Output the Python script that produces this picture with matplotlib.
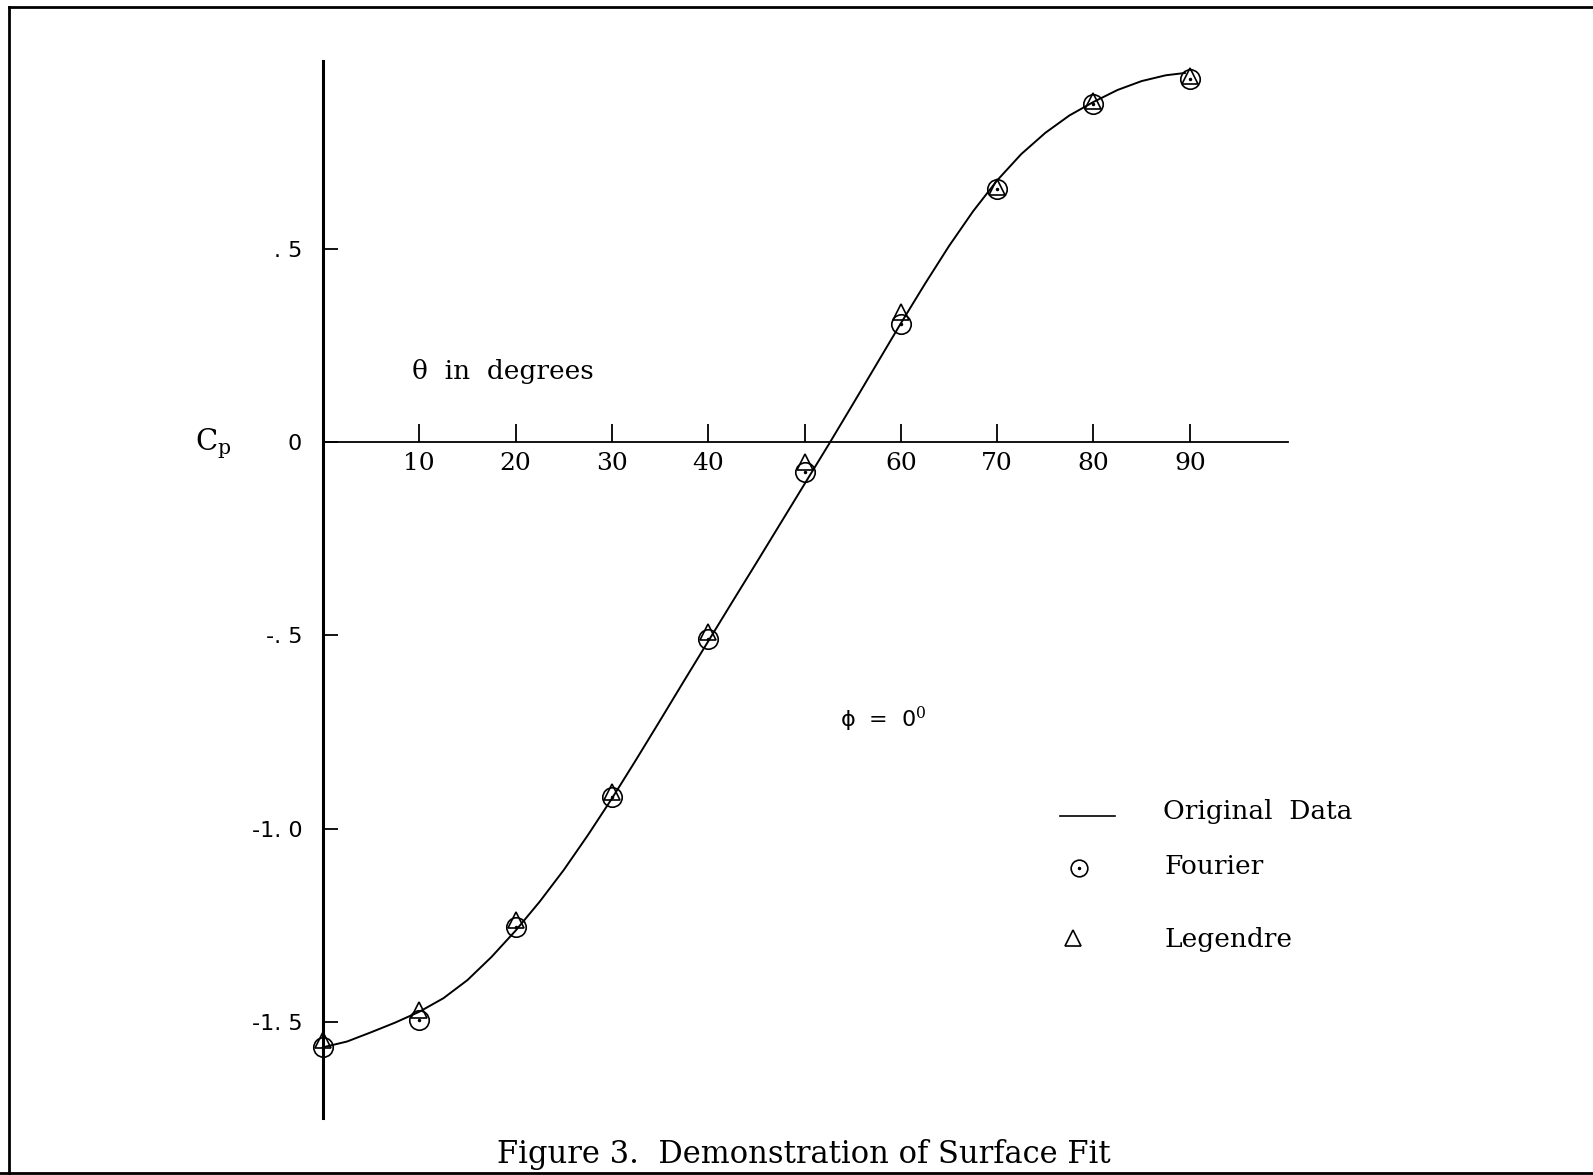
import matplotlib.pyplot as plt
from matplotlib.lines import Line2D

# original data curve (theta in degrees, Cp)
theta_line = [0, 2.5, 5, 7.5, 10, 12.5, 15, 17.5, 20, 22.5, 25, 27.5, 30, 32.5, 35,
              37.5, 40, 42.5, 45, 47.5, 50, 52.5, 55, 57.5, 60, 62.5, 65, 67.5, 70,
              72.5, 75, 77.5, 80, 82.5, 85, 87.5, 89.5]
cp_line = [-1.566, -1.551, -1.527, -1.502, -1.474, -1.439, -1.392, -1.332, -1.264,
           -1.189, -1.107, -1.017, -0.922, -0.822, -0.720, -0.617, -0.515, -0.413,
           -0.312, -0.210, -0.108, -0.006, 0.098, 0.203, 0.308, 0.410, 0.508, 0.598,
           0.678, 0.746, 0.801, 0.846, 0.881, 0.912, 0.935, 0.950, 0.956]

# fitted points
theta_pts = [0, 10, 20, 30, 40, 50, 60, 70, 80, 90]
cp_fourier = [-1.565, -1.495, -1.254, -0.917, -0.510, -0.078, 0.306, 0.655, 0.876, 0.940]
cp_legendre = [-1.547, -1.469, -1.236, -0.904, -0.490, -0.050, 0.337, 0.660, 0.884, 0.947]

x_ticks = [10, 20, 30, 40, 50, 60, 70, 80, 90]
x_labels = ['10', '20', '30', '40', '', '60', '70', '80', '90']
y_ticks = [0.5, 0, -0.5, -1.0, -1.5]
y_labels = ['. 5', '0', '-. 5', '-1. 0', '-1. 5']

W, H = 1593, 1175
fig = plt.figure(figsize=(W / 100, H / 100), dpi=100)


def fx(x):
    return x / W


def fy(y):
    return 1 - y / H


ax = fig.add_axes([fx(323), fy(1118), (1288 - 323) / W, (1118 - 61) / H])
ax.plot(theta_line, cp_line, color='black', lw=1.4)
ax.plot(theta_pts, cp_fourier, ls='none', marker='o', ms=14, mfc='none',
        mec='black', mew=1.2, clip_on=False)
ax.plot(theta_pts, cp_fourier, ls='none', marker='.', ms=3, color='black', clip_on=False)
ax.plot(theta_pts, cp_legendre, ls='none', marker='^', ms=12, mfc='none',
        mec='black', mew=1.2, clip_on=False)

ax.set_xlim(0, 100.2)
ax.set_ylim(-1.749, 0.987)
ax.spines['top'].set_visible(False)
ax.spines['right'].set_visible(False)
ax.spines['left'].set_linewidth(2.2)
ax.spines['bottom'].set_position(('data', 0))
ax.spines['bottom'].set_linewidth(1.3)

ax.set_xticks(x_ticks)
ax.set_xticklabels(x_labels)
ax.tick_params(axis='x', direction='in', length=13, width=1.3, pad=7,
               labelsize=18, labelfontfamily='DejaVu Serif')
ax.set_yticks(y_ticks)
ax.set_yticklabels(y_labels)
ax.tick_params(axis='y', direction='in', length=11, width=1.3, pad=15,
               labelsize=16, labelfontfamily='DejaVu Sans')

# texts
plt.rcParams['mathtext.fontset'] = 'dejavuserif'
fig.text(fx(412), fy(372), 'θ  in  degrees', ha='left', va='center',
         family='DejaVu Serif', size=19)
fig.text(fx(195), fy(450), r'C$_\mathrm{p}$', ha='left', va='baseline',
         family='DejaVu Serif', size=21)
fig.text(fx(840), fy(727), 'ϕ  =  0$^{0}$', ha='left', va='baseline',
         family='DejaVu Sans', size=16)
fig.text(fx(804), fy(1155), 'Figure 3.  Demonstration of Surface Fit', ha='center',
         va='center', family='DejaVu Serif', size=22)

# legend
fig.add_artist(Line2D([fx(1060), fx(1115)], [fy(816), fy(816)], color='black', lw=1.2))
fig.text(fx(1163), fy(812), 'Original  Data', ha='left', va='center',
         family='DejaVu Serif', size=19)
fig.add_artist(Line2D([fx(1079)], [fy(868)], marker='o', ms=12, mfc='none',
                      mec='black', mew=1.2))
fig.add_artist(Line2D([fx(1079)], [fy(868)], marker='.', ms=3, color='black'))
fig.text(fx(1165), fy(867), 'Fourier', ha='left', va='center',
         family='DejaVu Serif', size=19)
fig.add_artist(Line2D([fx(1073)], [fy(938)], marker='^', ms=12, mfc='none',
                      mec='black', mew=1.2))
fig.text(fx(1165), fy(940), 'Legendre', ha='left', va='center',
         family='DejaVu Serif', size=19)

# page frame
fig.add_artist(Line2D([fx(9), fx(9)], [fy(7), fy(1175)], color='black', lw=2))
fig.add_artist(Line2D([fx(9), fx(1593)], [fy(7), fy(7)], color='black', lw=2))
fig.add_artist(Line2D([fx(0), fx(1593)], [fy(1173), fy(1173)], color='black', lw=2))

fig.savefig('out.png', dpi=100)
